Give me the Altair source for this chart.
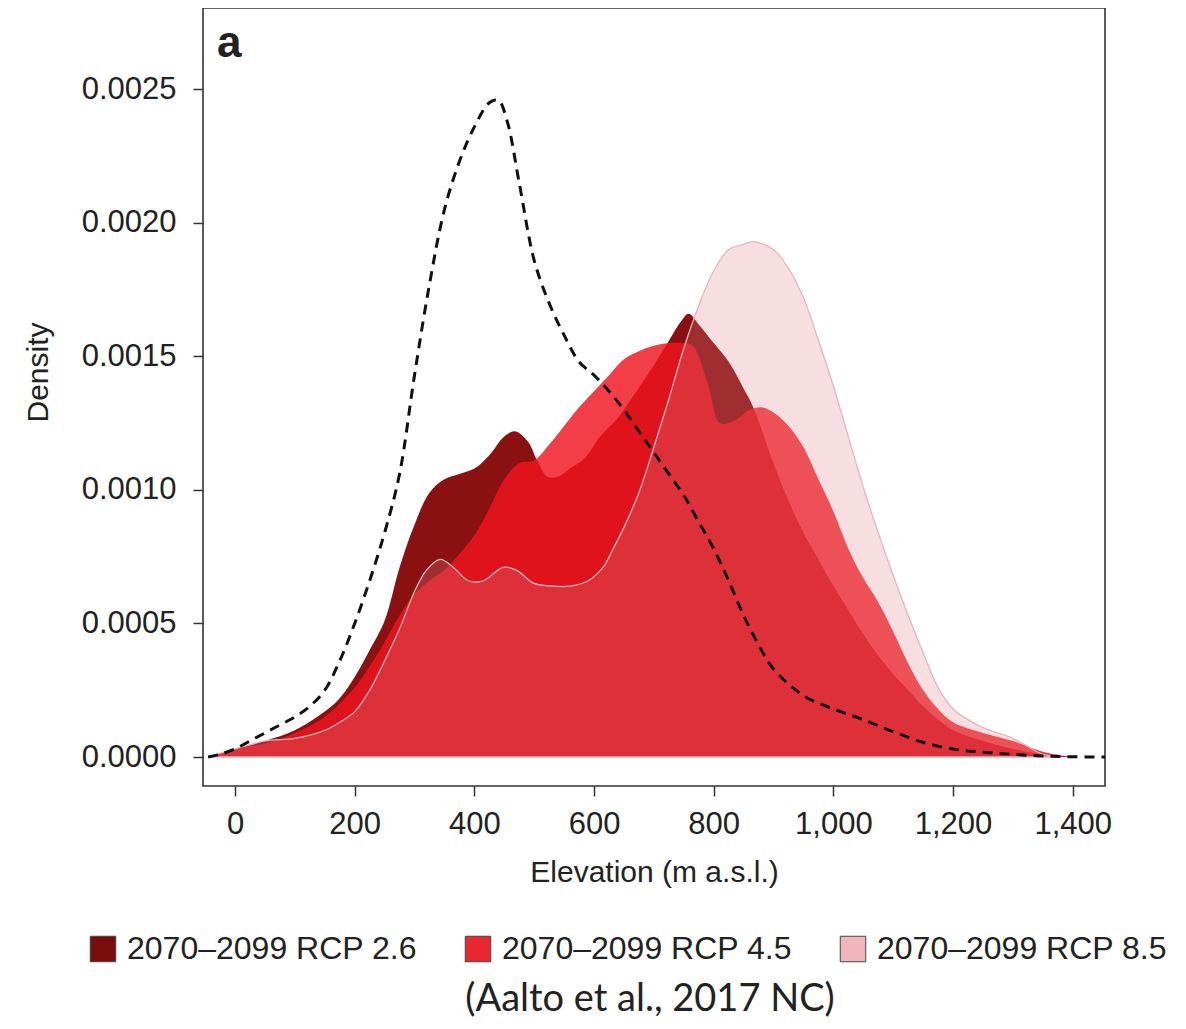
import altair as alt
import pandas as pd

# ---------------- data ----------------
x_base = [-45, -25, 0, 25, 50, 75, 100, 125, 150, 175, 200, 225, 250, 275, 300, 325, 350, 375, 400, 425,
          440, 455, 475, 500, 525, 550, 575, 600, 625, 650, 675, 700, 725, 750, 775, 800, 825, 850, 875,
          900, 950, 1000, 1050, 1100, 1150, 1200, 1250, 1300, 1350, 1400, 1454]
y_base = [0, 0.00001, 0.00003, 0.00006, 0.00009, 0.00012, 0.00015, 0.00019, 0.00025, 0.00036, 0.0005,
          0.00066, 0.00084, 0.00106, 0.00143, 0.00177, 0.00205, 0.00223, 0.00236, 0.00245, 0.00246,
          0.00238, 0.00215, 0.00186, 0.0017, 0.00158, 0.00148, 0.00143, 0.00137, 0.0013, 0.00122,
          0.00114, 0.00106, 0.00098, 0.00088, 0.00078, 0.00066, 0.00053, 0.00042, 0.00033, 0.00023,
          0.00018, 0.00014, 0.000095, 0.000055, 0.00003, 0.000018, 0.00001, 0.000004, 0.000001, 0]

x_26 = [-45, 0, 50, 100, 150, 175, 200, 225, 250, 275, 300, 325, 350, 375, 400, 425, 450, 468, 490, 505,
        522, 540, 560, 585, 610, 640, 665, 695, 720, 745, 758, 775, 800, 825, 850, 866, 900, 925, 950,
        975, 1000, 1025, 1050, 1075, 1100, 1125, 1150, 1175, 1200, 1250, 1300, 1350, 1400]
y_26 = [0, 0.00003, 0.00006, 0.0001, 0.00017, 0.00022, 0.0003, 0.0004, 0.00051, 0.00071, 0.00087,
        0.00099, 0.00104, 0.00106, 0.00108, 0.00113, 0.0012, 0.00122, 0.00118, 0.00111, 0.00105,
        0.00105, 0.00108, 0.00112, 0.0012, 0.00127, 0.00135, 0.00145, 0.00154, 0.00163, 0.00166,
        0.00162, 0.00155, 0.00148, 0.00138, 0.00131, 0.0011, 0.00096, 0.00084, 0.00074, 0.00064,
        0.00055, 0.00046, 0.00038, 0.00031, 0.00025, 0.00019, 0.00014, 0.0001, 0.00006, 0.00003,
        0.00001, 0]

x_45 = [-45, 0, 50, 100, 150, 200, 225, 250, 275, 300, 325, 350, 375, 400, 425, 450, 475, 500, 525, 550,
        575, 600, 625, 650, 675, 700, 725, 750, 765, 790, 811, 835, 860, 880, 900, 925, 950, 975, 1000,
        1025, 1050, 1075, 1100, 1125, 1150, 1175, 1200, 1250, 1300, 1350, 1400]
y_45 = [0, 0.00003, 0.00005, 0.00009, 0.00015, 0.00026, 0.00034, 0.00043, 0.00053, 0.00061, 0.00066,
        0.0007, 0.00076, 0.00083, 0.00093, 0.00104, 0.0011, 0.00111, 0.00117, 0.00124, 0.00131,
        0.00137, 0.00143, 0.00149, 0.00152, 0.00154, 0.00155, 0.00155, 0.00154, 0.0014, 0.00125,
        0.00126, 0.0013, 0.00131, 0.00129, 0.00124, 0.00116, 0.00104, 0.00092, 0.00078, 0.00067,
        0.00058, 0.00047, 0.00035, 0.00025, 0.00018, 0.00013, 0.00009, 0.00006, 0.00002, 0]

x_85 = [-45, 0, 50, 100, 150, 175, 200, 225, 250, 275, 300, 320, 343, 365, 390, 415, 448, 470, 500, 530,
        560, 590, 615, 632, 650, 675, 700, 725, 750, 775, 800, 825, 850, 866, 900, 925, 950, 975, 1000,
        1025, 1050, 1075, 1100, 1125, 1150, 1175, 1200, 1225, 1250, 1275, 1300, 1325, 1350, 1380]
y_85 = [0, 0.00003, 0.00006, 0.00007, 0.0001, 0.00013, 0.00017, 0.00025, 0.00036, 0.00048, 0.00062,
        0.0007, 0.00074, 0.00071, 0.00066, 0.00066, 0.00071, 0.0007, 0.00065, 0.00064, 0.00064,
        0.00066, 0.00071, 0.00078, 0.00086, 0.00099, 0.00116, 0.00134, 0.00153, 0.00169, 0.00182,
        0.0019, 0.00192, 0.00193, 0.0019, 0.00183, 0.00172, 0.00156, 0.00139, 0.0012, 0.00101,
        0.00084, 0.00068, 0.00053, 0.00039, 0.00026, 0.00018, 0.00014, 0.00011, 0.00009, 0.00007,
        0.00004, 0.00001, 0]

series_names = ["2070\u20132099 RCP 2.6", "2070\u20132099 RCP 4.5", "2070\u20132099 RCP 8.5"]
legend_colors = ["#7A0C0C", "#E8282E", "#F2B5BE"]
x_ticks = [0, 200, 400, 600, 800, 1000, 1200, 1400]
y_ticks = [0.0, 0.0005, 0.0010, 0.0015, 0.0020, 0.0025]

panel_label = "a"
caption = "(Aalto et al., 2017 NC)"

# ---------------- chart ----------------
FONT = "Liberation Sans"
XDOM = [-53.5, 1454]
YDOM = [-0.0001086, 0.002805]
INTERP = "catmull-rom"

xs = alt.Scale(domain=XDOM, nice=False, zero=False)
ys = alt.Scale(domain=YDOM, nice=False, zero=False)

xaxis = alt.Axis(values=x_ticks, format=",.0f", title="Elevation (m a.s.l.)", grid=False, domain=False,
                 tickSize=10, tickWidth=1.5, tickColor="#333", labelFontSize=31, labelFont=FONT,
                 labelColor="#222", labelPadding=13, titleFontSize=30, titleFont=FONT,
                 titleFontWeight="normal", titleColor="#222", titleBaseline="alphabetic", titleY=95)
yaxis = alt.Axis(values=y_ticks, format=".4f", title="Density", grid=False, domain=False,
                 tickSize=10, tickWidth=1.5, tickColor="#333", labelFontSize=31, labelFont=FONT,
                 labelColor="#222", labelPadding=17, titleFontSize=30, titleFont=FONT,
                 titleFontWeight="normal", titleColor="#222", titlePadding=28, titleY=364)


def frame(xv, yv):
    return pd.DataFrame({"x": xv, "y": yv})


def area_layer(xv, yv, **kw):
    return alt.Chart(frame(xv, yv)).mark_area(interpolate=INTERP, **kw).encode(
        x=alt.X("x:Q", scale=xs, axis=xaxis),
        y=alt.Y("y:Q", scale=ys, axis=yaxis),
    )


a26 = area_layer(x_26, y_26, color="#8A1111", opacity=1)
a45 = area_layer(x_45, y_45, color="#F0141E", opacity=0.82)
a85 = area_layer(x_85, y_85, fill="#E1828C", fillOpacity=0.26, stroke="#E8B4BB", strokeWidth=1.3,
                 strokeOpacity=1)

base_line = alt.Chart(frame(x_base, y_base)).mark_line(
    interpolate=INTERP, color="#111", strokeWidth=3, strokeDash=[10, 7]
).encode(x=alt.X("x:Q", scale=xs), y=alt.Y("y:Q", scale=ys))

legend_df = pd.DataFrame({"series": series_names, "x": [0, 0, 0], "y": [0, 0, 0]})
legend_layer = alt.Chart(legend_df).mark_point(shape="square", filled=True, opacity=0).encode(
    x=alt.X("x:Q", scale=xs),
    y=alt.Y("y:Q", scale=ys),
    color=alt.Color(
        "series:N",
        scale=alt.Scale(domain=series_names, range=legend_colors),
        legend=alt.Legend(
            title=None, orient="none", legendX=-116, legendY=925, direction="horizontal",
            columns=3, symbolType="square", symbolSize=650, symbolOpacity=1,
            symbolStrokeColor="#444", symbolStrokeWidth=1, labelFontSize=32, labelFont=FONT,
            labelColor="#222", labelOffset=8, columnPadding=45, padding=0, labelLimit=500,
        ),
    ),
)

label_df = pd.DataFrame({"t": [panel_label]})
label_a = alt.Chart(label_df).mark_text(
    align="left", baseline="alphabetic", fontSize=44, fontWeight="bold", font=FONT, color="#222"
).encode(text="t:N", x=alt.value(14), y=alt.value(49))

cap_df = pd.DataFrame({"t": [caption]})
cap = alt.Chart(cap_df).mark_text(
    align="center", baseline="alphabetic", fontSize=38, font="Lato", color="#222"
).encode(text="t:N", x=alt.value(447), y=alt.value(1003))

chart = alt.layer(a26, a45, a85, base_line, legend_layer, label_a, cap).properties(
    width=902, height=778,
    autosize=alt.AutoSizeParams(type="none"),
    padding={"left": 195, "top": 0, "right": 73, "bottom": 240},
).configure_view(stroke="#333", strokeWidth=1.6)

chart.save("out.html", embed_options={"renderer": "svg", "actions": False})
